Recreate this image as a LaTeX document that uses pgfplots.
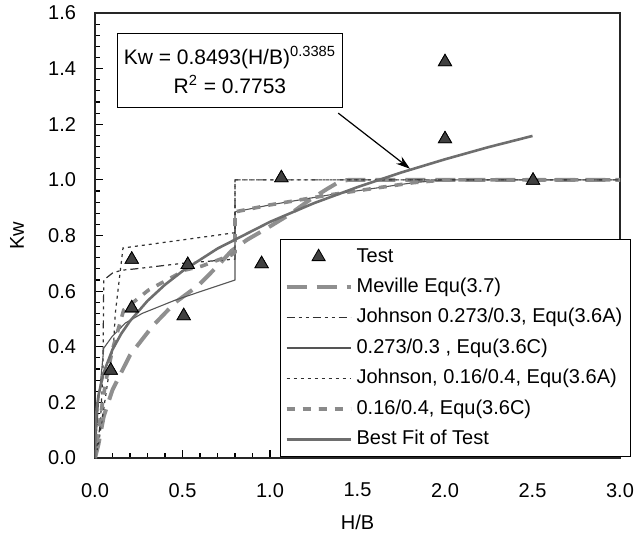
\documentclass[border=0pt]{standalone}
\usepackage{pgfplots}
\pgfplotsset{compat=1.18}
\usepackage{fontspec}
\setmainfont{Liberation Sans}
\usetikzlibrary{arrows.meta}
\definecolor{tri}{HTML}{404040}
\definecolor{mev}{HTML}{8F8F8F}
\definecolor{fit}{HTML}{6E6E6E}
\definecolor{ddash}{HTML}{8A8A8A}
\definecolor{dark}{HTML}{303030}
\definecolor{thincol}{HTML}{555555}
\newcommand\f{\fontsize{10pt}{12pt}\selectfont}
\begin{document}
\begin{tikzpicture}
\useasboundingbox (-47.5pt,-41.5pt) rectangle (270.5pt,229pt);
\begin{axis}[
  at={(0pt,0pt)}, anchor=south west,
  scale only axis, width=262.5pt, height=222.5pt,
  xmin=0, xmax=3, ymin=0, ymax=1.6,
  xtick={0,0.5,1,1.5,2,2.5,3}, ytick={0,0.2,0.4,0.6,0.8,1,1.2,1.4,1.6},
  minor x tick num=4, minor y tick num=4,
  xtick pos=bottom, ytick pos=left,
  tick align=inside,
  major tick length=4pt, minor tick length=2.5pt,
  tick style={black, line width=0.6pt},
  axis line style={line width=0.9pt, black!85},
  ticklabel style={font=\f},
  /pgf/number format/assume math mode=true,
  xticklabel={\pgfmathprintnumber[fixed,fixed zerofill,precision=1]{\tick}},
  yticklabel={\pgfmathprintnumber[fixed,fixed zerofill,precision=1]{\tick}},
  yticklabel style={xshift=-6pt},
  xticklabel style={yshift=-9pt},
  xlabel={H/B}, ylabel={Kw},
  xlabel style={at={(axis description cs:0.5,-0.1438)}, anchor=center, font=\f},
  ylabel style={at={(axis description cs:-0.1486,0.5)}, anchor=center, font=\f},
  legend style={at={(axis description cs:0.3524,0.0022)}, anchor=south west,
    draw=black, line width=0.6pt, fill=white, inner xsep=2pt, inner ysep=1pt,
    font=\f, nodes={text height=7.2pt, text depth=2pt, inner ysep=3pt, inner xsep=2pt},
    row sep=0pt},
  legend cell align=left,
  legend image code/.code={\draw[mark repeat=2,mark phase=2,#1] plot coordinates {(0pt,0pt) (16pt,0pt) (32pt,0pt)};},
]
% Test
\addplot[only marks, mark=triangle*, mark size=3.8pt, mark options={fill=tri, draw=black, line width=0.4pt, solid}]
coordinates {(0.09,0.315) (0.21,0.714) (0.21,0.539) (0.507,0.511) (0.53,0.695) (0.952,0.698) (1.065,1.007) (2.0,1.424) (2.0,1.147) (2.503,0.998)};
\addlegendentry{Test}
% Meville
\addplot[mev, line width=2pt, dash pattern=on 10pt off 5pt]
coordinates {(0,0) (0.02,0.05) (0.05,0.15) (0.1,0.245) (0.2,0.37) (0.33,0.475) (0.46,0.56) (0.59,0.62) (0.7,0.69) (0.78,0.745) (0.87,0.785) (0.98,0.825) (1.11,0.875) (1.22,0.925) (1.32,0.965) (1.4,0.995) (1.45,1.0) (3.0,1.0)};
\addlegendentry{Meville Equ(3.7)}
% Johnson 0.273/0.3 (3.6A)
\addplot[dark, line width=0.6pt, dash pattern=on 4pt off 2pt on 1.5pt off 2pt on 1.5pt off 2pt]
coordinates {(0,0) (0.03,0.12) (0.045,0.3) (0.05,0.64) (0.1,0.665) (0.15,0.675) (0.23,0.68) (0.5,0.70) (0.8,0.715) (0.8,1.0) (3.0,1.0)};
\addlegendentry{Johnson 0.273/0.3, Equ(3.6A)}
% 0.273/0.3 (3.6C)
\addplot[thincol, line width=0.55pt]
coordinates {(0,0) (0.02,0.2) (0.045,0.36) (0.05,0.395) (0.097,0.436) (0.173,0.485) (0.27,0.52) (0.46,0.568) (0.61,0.60) (0.8,0.64) (0.8,0.885) (1.0,0.91) (1.34,0.946) (1.6,0.97) (1.82,0.99) (2.0,1.0) (3.0,1.0)};
\addlegendentry{0.273/0.3 , Equ(3.6C)}
% Johnson 0.16/0.4 (3.6A)
\addplot[dark, line width=0.6pt, dash pattern=on 1.5pt off 2pt]
coordinates {(0,0) (0.02,0.05) (0.06,0.22) (0.107,0.42) (0.116,0.52) (0.143,0.665) (0.16,0.755) (0.8,0.81) (0.8,1.0) (3.0,1.0)};
\addlegendentry{Johnson, 0.16/0.4, Equ(3.6A)}
% 0.16/0.4 (3.6C)
\addplot[ddash, line width=1.8pt, dash pattern=on 4pt off 4pt]
coordinates {(0,0) (0.02,0.1) (0.06,0.27) (0.1,0.39) (0.164,0.532) (0.306,0.604) (0.516,0.676) (0.61,0.69) (0.78,0.73) (0.8,0.74) (0.8,0.885) (1.0,0.91) (1.34,0.946) (1.6,0.97) (1.82,0.99) (2.0,1.0) (3.0,1.0)};
\addlegendentry{0.16/0.4, Equ(3.6C)}
% Best fit
\addplot[fit, line width=1.3pt]
coordinates {(0,0) (0.002,0.104) (0.005,0.141) (0.01,0.179) (0.02,0.226) (0.05,0.308) (0.1,0.390) (0.15,0.447) (0.2,0.4925) (0.3,0.565) (0.4,0.623) (0.5,0.672) (0.7,0.753) (1.0,0.849) (1.25,0.916) (1.5,0.974) (1.75,1.0265) (2.0,1.074) (2.25,1.118) (2.5,1.158)};
\addlegendentry{Best Fit of Test}
% Test again on top
\addplot[forget plot, only marks, mark=triangle*, mark size=3.8pt, mark options={fill=tri, draw=black, line width=0.4pt, solid}]
coordinates {(0.09,0.315) (0.21,0.714) (0.21,0.539) (0.507,0.511) (0.53,0.695) (0.952,0.698) (1.065,1.007) (2.0,1.424) (2.0,1.147) (2.503,0.998)};
\node[draw=black, line width=0.6pt, fill=white, minimum width=108pt, minimum height=37pt, align=center, font=\fontsize{10.5pt}{14.5pt}\selectfont] at (axis cs:0.771,1.394) {Kw = 0.8493(H/B)\textsuperscript{0.3385}\\R\textsuperscript{2} = 0.7753};
\draw[black, line width=0.6pt, -{Stealth[length=7pt,width=4.5pt]}] (axis cs:1.39,1.24) -- (axis cs:1.8,1.04);
\end{axis}
\end{tikzpicture}
\end{document}
